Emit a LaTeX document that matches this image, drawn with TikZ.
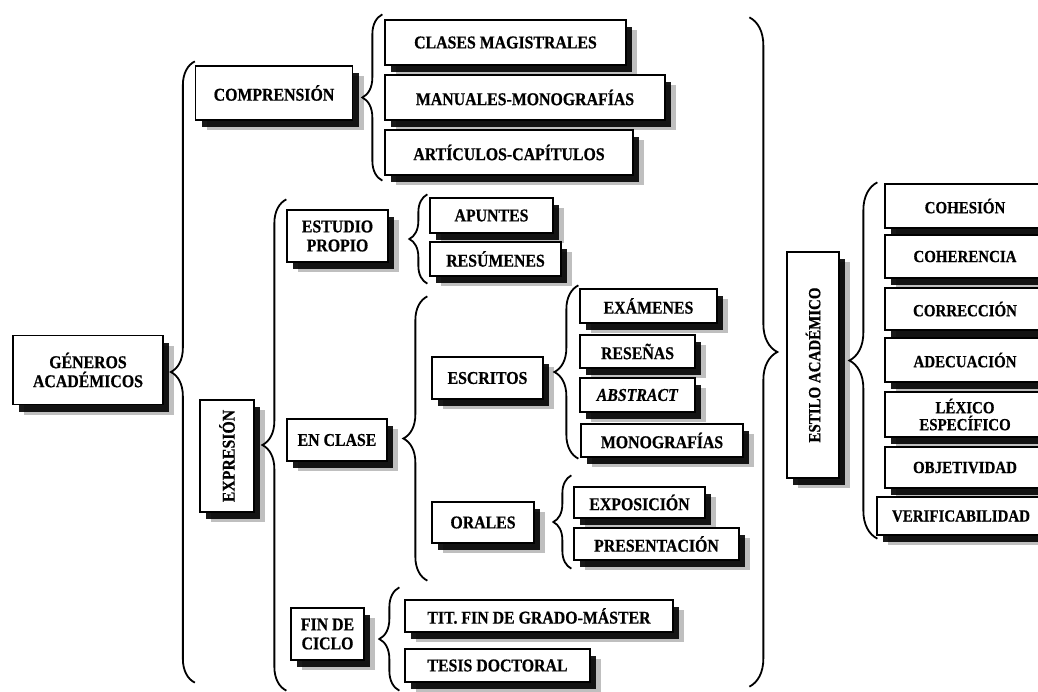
\documentclass[tikz,border=0pt]{standalone}
\usepackage{fontspec}
\setmainfont{Liberation Serif}[FakeStretch=0.88, BoldFeatures={FakeBold=0.6}, BoldItalicFeatures={FakeBold=0.6}]
\usepackage{graphicx}
\usetikzlibrary{shadows,decorations.pathreplacing}

\tikzset{
  caja/.style={draw, line width=1.3pt, fill=white, inner sep=0pt, align=center,
    font=\fontsize{18}{19}\selectfont\bfseries,
    drop shadow={shadow xshift=11pt, shadow yshift=-10pt, fill=black, opacity=.25},
    drop shadow={shadow xshift=6pt, shadow yshift=-7pt, fill=black, opacity=.9}},
  rasgo/.style={caja, font=\fontsize{17}{17}\selectfont\bfseries},
  llave/.style={decorate, line width=1.8pt, decoration={brace, amplitude=#1}},
  llave/.default=24pt
}

\begin{document}
\begin{tikzpicture}[x=1pt, y=-1pt] % pixel grid of the scanned chart

\useasboundingbox (0,0) rectangle (1038,691);

\node[caja, minimum width=150pt, minimum height=69pt] (generos) at (88,370) {GÉNEROS\\ACADÉMICOS};

\node[caja, minimum width=157pt, minimum height=54pt] (comprension) at (274,93) {COMPRENSIÓN};
\node[caja, minimum width=241pt, minimum height=45pt] (clases) at (505.5,42.5) {CLASES MAGISTRALES};
\node[caja, minimum width=280pt, minimum height=45pt] (manuales) at (525,97.5) {MANUALES-MONOGRAFÍAS};
\node[caja, minimum width=248pt, minimum height=45pt] (articulos) at (509,152.5) {ARTÍCULOS-CAPÍTULOS};

\node[caja, minimum width=54pt, minimum height=112pt] (expresion) at (227,456) {\rotatebox{90}{EXPRESIÓN}};
\node[caja, minimum width=101pt, minimum height=52pt] (estudio) at (337.5,236) {ESTUDIO\\PROPIO};
\node[caja, minimum width=123pt, minimum height=35pt] (apuntes) at (491.5,215.5) {APUNTES};
\node[caja, minimum width=131pt, minimum height=34pt] (resumenes) at (495.5,259) {RESÚMENES};

\node[caja, minimum width=100pt, minimum height=42pt] (enclase) at (337,440) {EN CLASE};
\node[caja, minimum width=111pt, minimum height=42pt] (escritos) at (487.5,378) {ESCRITOS};
\node[caja, minimum width=137pt, minimum height=34pt] (examenes) at (648.5,306) {EXÁMENES};
\node[caja, minimum width=115pt, minimum height=33pt] (resenas) at (637.5,351.5) {RESEÑAS};
\node[caja, minimum width=115pt, minimum height=34pt] (abstract) at (637.5,395) {\textit{ABSTRACT}};
\node[caja, minimum width=162pt, minimum height=33pt] (monografias) at (662,440.5) {MONOGRAFÍAS};
\node[caja, minimum width=102pt, minimum height=41pt] (orales) at (483,522.5) {ORALES};
\node[caja, minimum width=131pt, minimum height=31pt] (exposicion) at (639.5,502.5) {EXPOSICIÓN};
\node[caja, minimum width=165pt, minimum height=32pt] (presentacion) at (656.5,544) {PRESENTACIÓN};

\node[caja, minimum width=73pt, minimum height=52pt] (fin) at (327.5,634) {FIN DE\\CICLO};
\node[caja, minimum width=268pt, minimum height=32pt] (tit) at (539,616) {TIT. FIN DE GRADO-MÁSTER};
\node[caja, minimum width=185pt, minimum height=33pt] (tesis) at (497.5,665.5) {TESIS DOCTORAL};

\node[rasgo, minimum width=52pt, minimum height=226pt] (estilo) at (813,365) {\rotatebox{90}{ESTILO ACADÉMICO}};
\node[rasgo, minimum width=160pt, minimum height=44pt] (cohesion) at (965,206) {COHESIÓN};
\node[rasgo, minimum width=160pt, minimum height=43pt] (coherencia) at (965,256.5) {COHERENCIA};
\node[rasgo, minimum width=160pt, minimum height=42pt] (correccion) at (965,309) {CORRECCIÓN};
\node[rasgo, minimum width=160pt, minimum height=44pt] (adecuacion) at (965,360) {ADECUACIÓN};
\node[rasgo, minimum width=160pt, minimum height=45pt] (lexico) at (965,414.5) {LÉXICO\\ESPECÍFICO};
\node[rasgo, minimum width=160pt, minimum height=41pt] (objetividad) at (965,467.5) {OBJETIVIDAD};
\node[rasgo, minimum width=168pt, minimum height=38pt] (verificabilidad) at (961,516) {VERIFICABILIDAD};

\draw[llave] (comprension.west |- tesis.south) -- ([yshift=4pt]comprension.north west);
\draw[llave=20pt] ([xshift=-2pt,yshift=-5pt]articulos.south west) -- ([xshift=-2pt,yshift=5pt]clases.north west);
\draw[llave] ([yshift=-8pt]estudio.west |- tesis.south) -- ([yshift=10pt]estudio.north west);
\draw[llave=18pt] ([xshift=-2pt,yshift=-7pt]resumenes.south west) -- ([xshift=-2pt,yshift=3pt]apuntes.north west);
\draw[llave] ([xshift=-4pt,yshift=-20pt]presentacion.south -| escritos.west) -- ([xshift=-4pt,yshift=-8pt]examenes.north -| escritos.west);
\draw[llave] ([xshift=-1pt,yshift=-1pt]monografias.south -| examenes.west) -- ([xshift=-1pt,yshift=3pt]examenes.north west);
\draw[llave=18pt] ([xshift=-2pt,yshift=-8pt]presentacion.south west) -- ([xshift=-2pt,yshift=11pt]exposicion.north west);
\draw[llave=20pt] ([xshift=-5pt,yshift=-8pt]tesis.south west) -- ([xshift=-5pt,yshift=12pt]tit.north west);
\draw[llave=28pt] ([xshift=-7pt,yshift=-3pt]verificabilidad.south -| cohesion.west) -- ([xshift=-7pt,yshift=1pt]cohesion.north west);
\draw[llave=28pt] ([xshift=-37pt,yshift=2pt]estilo.west |- clases.north) -- ([xshift=-37pt,yshift=-4pt]estilo.west |- tesis.south);

\end{tikzpicture}
\end{document}
